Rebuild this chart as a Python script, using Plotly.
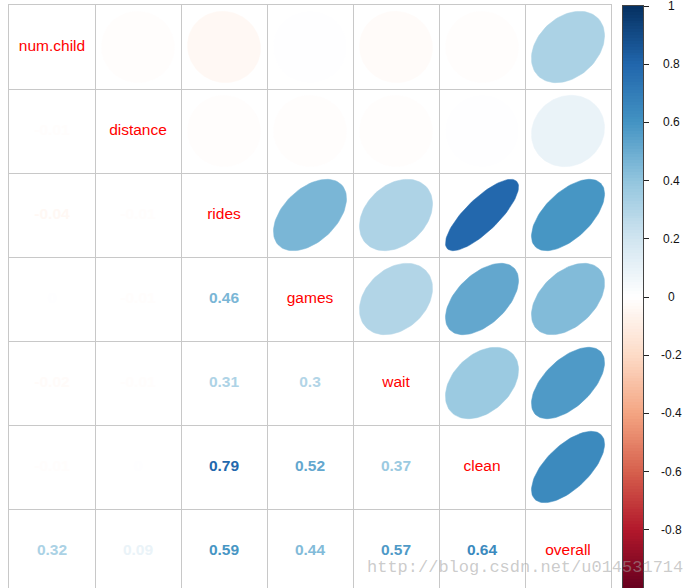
import numpy as np
import plotly.graph_objects as go

# ---------------- data ----------------
variables = ["num.child", "distance", "rides", "games", "wait", "clean", "overall"]
# lower-triangle correlations, row by row (row i, columns 0..i-1)
lower_rows = [
    [],
    [-0.01],
    [-0.04, -0.01],
    [0.004, -0.01, 0.46],
    [-0.02, -0.01, 0.31, 0.3],
    [-0.01, 0.004, 0.79, 0.52, 0.37],
    [0.32, 0.09, 0.59, 0.44, 0.57, 0.64],
]
colorbar_ticks = [1, 0.8, 0.6, 0.4, 0.2, 0, -0.2, -0.4, -0.6, -0.8]
palette = ["#67001F", "#B2182B", "#D6604D", "#F4A582", "#FDDBC7", "#FFFFFF",
           "#D1E5F0", "#92C5DE", "#4393C3", "#2166AC", "#053061"]

n = len(variables)
R = np.eye(n)
for i, row in enumerate(lower_rows):
    for j, v in enumerate(row):
        R[i, j] = v
        R[j, i] = v

W, H = 693, 588
FONT = "Liberation Sans, Arial, sans-serif"


def hex2rgb(h):
    h = h.lstrip("#")
    return np.array([int(h[k:k + 2], 16) for k in (0, 2, 4)], dtype=float)


pal_rgb = [hex2rgb(c) for c in palette]


def color_of(r):
    t = (r + 1) / 2 * (len(palette) - 1)
    k = int(np.clip(np.floor(t), 0, len(palette) - 2))
    f = t - k
    c = pal_rgb[k] * (1 - f) + pal_rgb[k + 1] * f
    return "rgb(%d,%d,%d)" % tuple(np.round(c).astype(int))


fig = go.Figure()

# ellipses in upper triangle (corrplot 'ellipse' method)
tt = np.linspace(0, 2 * np.pi, 99)
for i in range(n):
    for j in range(i + 1, n):
        r = R[i, j]
        a = np.arccos(r)
        ex = 0.85 * np.cos(tt + a / 2) / 2
        ey = 0.85 * np.cos(tt - a / 2) / 2
        cx, cy = j + 0.5, i + 0.5
        col = color_of(r)
        fig.add_trace(go.Scatter(
            x=cx + ex, y=cy - ey, mode="lines", fill="toself",
            fillcolor=col, line=dict(color=col, width=0.5),
            hoverinfo="skip", showlegend=False, xaxis="x", yaxis="y"))

# numbers in lower triangle
nx, ny, ntext, ncol = [], [], [], []
for i in range(n):
    for j in range(i):
        r = R[i, j]
        nx.append(j + 0.5)
        ny.append(i + 0.5)
        rr = round(r, 2) + 0.0
        ntext.append("<b>%s</b>" % f"{rr:g}")
        ncol.append(color_of(r))
fig.add_trace(go.Scatter(
    x=nx, y=ny, mode="text", text=ntext,
    textfont=dict(family=FONT, size=15.5, color=ncol),
    hoverinfo="skip", showlegend=False))

# diagonal labels
fig.add_trace(go.Scatter(
    x=[k + 0.5 for k in range(n)], y=[k + 0.5 for k in range(n)],
    mode="text", text=variables,
    textfont=dict(family=FONT, size=15.5, color="#FF0000"),
    hoverinfo="skip", showlegend=False))

# colour bar as heatmap
edges = np.linspace(-1, 1, 201)
mids = (edges[:-1] + edges[1:]) / 2
colorscale = [[k / (len(palette) - 1), c] for k, c in enumerate(palette)]
fig.add_trace(go.Heatmap(
    x=[0, 1], y=edges, z=[[m] for m in mids], zmin=-1, zmax=1,
    colorscale=colorscale, showscale=False, hoverinfo="skip",
    xaxis="x2", yaxis="y2"))

grid_col = "#c8c8c8"
ytop_frac = (H - 5) / H
fig.update_layout(
    width=W, height=H,
    margin=dict(l=0, r=0, t=0, b=0),
    paper_bgcolor="white", plot_bgcolor="white",
    xaxis=dict(domain=[9 / W, 611 / W], range=[0, n],
               tickvals=list(range(n + 1)), showticklabels=False, ticks="",
               showgrid=True, gridcolor=grid_col, gridwidth=1, zeroline=False,
               showline=True, mirror=True, linecolor=grid_col, linewidth=1),
    yaxis=dict(domain=[0, ytop_frac], range=[(H - 5) / 84, 0],
               tickvals=list(range(n + 1)), showticklabels=False, ticks="",
               showgrid=True, gridcolor=grid_col, gridwidth=1, zeroline=False,
               showline=True, mirror=True, linecolor=grid_col, linewidth=1),
    xaxis2=dict(domain=[623 / W, 643 / W], range=[0, 1], anchor="y2",
                showticklabels=False, ticks="", showgrid=False, zeroline=False,
                showline=True, mirror=True, linecolor="#444444", linewidth=1),
    yaxis2=dict(domain=[0, (H - 6) / H], range=[-1, 1], anchor="x2", side="right",
                tickvals=colorbar_ticks, ticks="outside", ticklen=5,
                tickcolor="#222222", showticklabels=False, showgrid=False,
                zeroline=False, showline=True, mirror=True,
                linecolor="#444444", linewidth=1),
    showlegend=False,
)

for v in colorbar_ticks:
    fig.add_annotation(x=671 / W, xref="paper", y=v, yref="y2",
                       text=f"{v:g}", showarrow=False, xanchor="center",
                       yanchor="middle",
                       font=dict(family=FONT, size=12, color="#111111"))

fig.add_annotation(x=525 / W, xref="paper", y=(H - 567) / H, yref="paper",
                   text="http://blog.csdn.net/u014531714", showarrow=False,
                   xanchor="center", yanchor="middle",
                   font=dict(family="Liberation Mono, DejaVu Sans Mono, monospace",
                             size=17, color="rgba(160,160,160,0.55)"))

fig.write_html("out.html")
